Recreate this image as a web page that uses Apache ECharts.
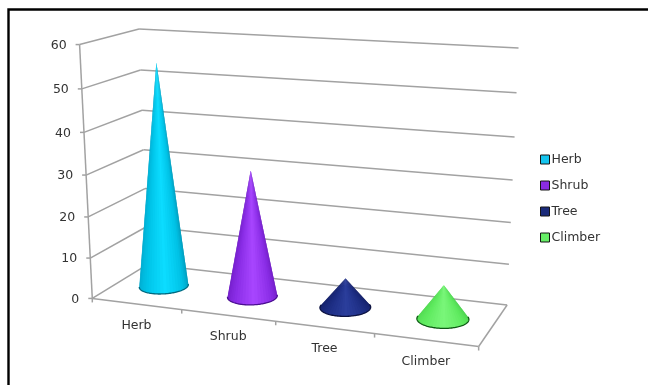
<!DOCTYPE html>
<html>
<head>
<meta charset="utf-8">
<style>html,body{margin:0;padding:0;background:#fff}#chart{width:648px;height:385px}</style>
<script src="https://cdn.jsdelivr.net/npm/echarts@6/dist/echarts.min.js"></script>
</head>
<body>
<div id="chart"></div>
<script>
// Chart data
const categories = ['Herb', 'Shrub', 'Tree', 'Climber'];
const percentages = [54.5, 30.7, 7, 8];
const valueTicks = [0, 10, 20, 30, 40, 50, 60];

// Cone shading, left edge to right edge, plus base rim colour
const legendColors = ['#14c4ee', '#8a2be2', '#1a2a7a', '#66ee66'];
const coneShades = [
  ['#00a8cc', '#00c4e8', '#0cdcff', '#00c2e6', '#0090b0'],
  ['#701cc6', '#8a2de6', '#a846ff', '#8a2de6', '#6a18bc'],
  ['#141f66', '#1c2c80', '#2b3e9c', '#1c2c80', '#121c60'],
  ['#4ed84e', '#5fea5f', '#7af67a', '#5fea5f', '#45cc4a']
];
const rimColors = ['#006a80', '#4a0f90', '#0c1240', '#0e5a14'];

// View calibration: [category position, depth, value, screen x, screen y]
const viewRefs = [
  [0,0,60,80,45],[0,0,50,82,89],[0,0,40,84,132],[0,0,30,86,175],[0,0,20,88,217],[0,0,10,90,258],[0,0,0,92,298],
  [0,1,60,139,29],[0,1,50,140,70],[0,1,40,142,110],[0,1,30,143,150],[0,1,20,145.5,188],[0,1,10,147,227],[0,1,0,148,265],
  [4,1,60,519,48],[4,1,50,517,93],[4,1,40,514,137],[4,1,30,512,180],[4,1,20,511,222],[4,1,10,509,264],[4,1,0,507,305],
  [1,0,0,182,309.5],[2,0,0,276,321.3],[3,0,0,374,333.5],[4,0,0,479,347]
];
const catCount = categories.length;
const valueMax = 60;

// Least-squares fit of a perspective camera to the calibration points
function fitCamera(refs) {
  const s = 500, n = 11;
  const A = Array.from({length: n}, () => new Array(n + 1).fill(0));
  const add = (row, b) => {
    for (let i = 0; i < n; i++) {
      for (let j = 0; j < n; j++) A[i][j] += row[i] * row[j];
      A[i][n] += row[i] * b;
    }
  };
  refs.forEach(([u, w, v, x, y]) => {
    const U = u / catCount, V = v / valueMax, X = x / s, Y = y / s;
    add([U, w, V, 1, 0, 0, 0, 0, -X * U, -X * w, -X * V], X);
    add([0, 0, 0, 0, U, w, V, 1, -Y * U, -Y * w, -Y * V], Y);
  });
  for (let c = 0; c < n; c++) {
    let best = c;
    for (let r = c + 1; r < n; r++) if (Math.abs(A[r][c]) > Math.abs(A[best][c])) best = r;
    [A[c], A[best]] = [A[best], A[c]];
    for (let r = 0; r < n; r++) {
      if (r === c) continue;
      const f = A[r][c] / A[c][c];
      for (let k = c; k <= n; k++) A[r][k] -= f * A[c][k];
    }
  }
  const p = A.map((row, i) => row[n] / row[i]);
  return (u, w, v) => {
    const U = u / catCount, V = v / valueMax;
    const d = p[8] * U + p[9] * w + p[10] * V + 1;
    return [s * (p[0] * U + p[1] * w + p[2] * V + p[3]) / d,
            s * (p[4] * U + p[5] * w + p[6] * V + p[7]) / d];
  };
}
const project = fitCamera(viewRefs);

// The cartesian grid is hidden; its scales feed the perspective projection
const plot = {left: 100, top: 40, width: 400, height: 300};
const toUnits = (api, cat, val) => {
  const c = api.coord([cat, val]);
  return [(c[0] - plot.left) / plot.width * catCount,
          (plot.top + plot.height - c[1]) / plot.height * valueMax];
};

const gridColor = '#a2a2a2', textColor = '#333333', font = '12.5px "DejaVu Sans"';
const line = (a, b) => ({
  type: 'line',
  shape: {x1: a[0], y1: a[1], x2: b[0], y2: b[1]},
  style: {stroke: gridColor, lineWidth: 1.5, fill: null}
});

// Horizontal wall lines with tick and label for each value tick
function renderValueTick(params, api) {
  const val = toUnits(api, 0, api.value(1))[1];
  const front = project(0, 0, val), back = project(0, 1, val), right = project(catCount, 1, val);
  const children = [
    line([front[0] - 4, front[1]], front),
    line(front, back),
    line(back, right),
    {type: 'text', style: {text: String(api.value(1)), x: front[0] - 13, y: front[1] + 1,
      fill: textColor, font, align: 'right', verticalAlign: 'middle'}}
  ];
  if (params.dataIndex === 0) {
    // Floor outline, front value axis and the tick on each category boundary
    const top = project(0, 0, valueMax);
    const fr = project(catCount, 0, 0);
    children.push(line(front, top), line(front, fr), line(fr, right));
    children.push(line(front, [front[0], front[1] + 4]));
    for (let b = 1; b <= catCount; b++) {
      const p = project(b, 0, 0);
      children.push(line(p, [p[0], p[1] + 4]));
    }
  }
  return {type: 'group', children};
}

function renderCategoryLabel(params, api) {
  const u = toUnits(api, api.value(0), 0)[0];
  const p = project(u, 0, 0);
  return {type: 'text', style: {text: categories[api.value(0)], x: p[0], y: p[1] + 21.5,
    fill: textColor, font, align: 'center', verticalAlign: 'middle'}};
}

// A cone: shade bands fan out from the apex over the visible arc of the projected
// base circle; each band runs under the next one so only its left edge shows
const baseRadiusU = 0.25, baseRadiusW = 0.22, baseDepth = 0.5, arcSteps = 144, bandSize = 3;
function renderCone(idx) {
  return (params, api) => {
    const pos = toUnits(api, api.value(0), api.value(1));
    const apex = project(pos[0], baseDepth, pos[1]);
    const circle = [];
    for (let i = 0; i < arcSteps; i++) {
      const t = i / arcSteps * Math.PI * 2;
      circle.push(project(pos[0] + baseRadiusU * Math.cos(t), baseDepth + baseRadiusW * Math.sin(t), 0));
    }
    let iL = 0, iR = 0, aL = Infinity, aR = -Infinity;
    circle.forEach((p, i) => {
      const a = Math.atan2(p[0] - apex[0], p[1] - apex[1]);
      if (a < aL) { aL = a; iL = i; }
      if (a > aR) { aR = a; iR = i; }
    });
    const arc = [];
    for (let i = iL; ; i = (i + 1) % arcSteps) { arc.push(circle[i]); if (i === iR) break; }
    const children = [];
    for (let k = 0; k < arc.length - 1; k += bandSize) {
      const col = echarts.color.lerp(k / (arc.length - 2), coneShades[idx]);
      children.push({type: 'polygon', shape: {points: [apex].concat(arc.slice(k, k + bandSize * 2 + 1))},
        style: {fill: col}});
    }
    children.push({type: 'polyline', shape: {points: arc},
      style: {fill: null, stroke: rimColors[idx], lineWidth: 1.3}});
    return {type: 'group', children};
  };
}

const chart = echarts.init(document.getElementById('chart'), null, {renderer: 'canvas'});
chart.setOption({
  animation: false,
  backgroundColor: '#ffffff',
  grid: {left: plot.left, top: plot.top, width: plot.width, height: plot.height},
  xAxis: {type: 'category', data: categories, show: false},
  yAxis: {type: 'value', min: 0, max: valueMax, interval: 10, show: false},
  legend: {
    orient: 'vertical', left: 535, top: 148,
    data: categories, icon: 'rect', itemWidth: 9, itemHeight: 9, itemGap: 13,
    itemStyle: {borderColor: '#151515', borderWidth: 1},
    textStyle: {color: textColor, fontFamily: 'DejaVu Sans', fontSize: 12.5, padding: [0, 0, 0, -3]},
    selectedMode: false
  },
  graphic: [{
    type: 'polyline', silent: true,
    shape: {points: [[8.5, 385], [8.5, 9.5], [648, 9.5]]},
    style: {stroke: '#000000', lineWidth: 2.4, fill: null}
  }],
  series: [
    {type: 'custom', name: 'valueTicks', silent: true, z: 1,
     data: valueTicks.map(t => [0, t]), renderItem: renderValueTick},
    {type: 'custom', name: 'categoryLabels', silent: true, z: 1,
     data: categories.map((c, i) => [i, 0]), renderItem: renderCategoryLabel},
    ...categories.map((c, i) => ({
      type: 'custom', name: c, silent: true, z: 2,
      itemStyle: {color: legendColors[i]},
      data: [[i, percentages[i]]],
      renderItem: renderCone(i)
    }))
  ]
});
</script>
</body>
</html>
